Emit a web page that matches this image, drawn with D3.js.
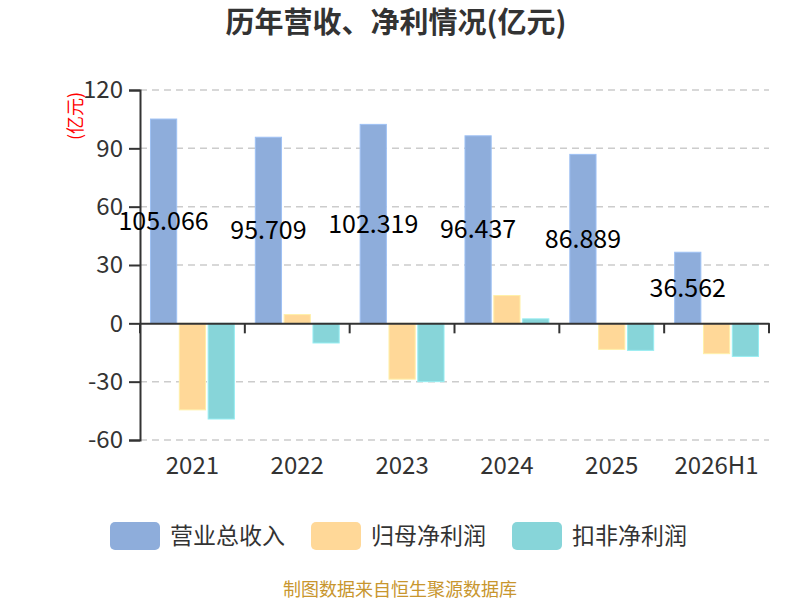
<!DOCTYPE html>
<html>
<head>
<meta charset="utf-8">
<script src="https://cdn.jsdelivr.net/npm/d3@7"></script>
<style>
  body { margin: 0; background: #fff; }
  text { font-family: "Noto Sans CJK SC", "Noto Sans", sans-serif; }
</style>
</head>
<body>
<svg id="chart" width="800" height="600"></svg>
<script>
const years = ["2021", "2022", "2023", "2024", "2025", "2026H1"];
const seriesNames = ["营业总收入", "归母净利润", "扣非净利润"];
const revenue = [105.066, 95.709, 102.319, 96.437, 86.889, 36.562];
const netProfit = [-44.5, 4.5, -28.7, 14.3, -13.4, -15.6];
const deductedProfit = [-49.2, -10.1, -30.0, 2.3, -13.9, -17.0];
const yTicks = [-60, -30, 0, 30, 60, 90, 120];
const colors = ["#8eaddb", "#ffd898", "#87d5d9"];

const series = [revenue, netProfit, deductedProfit];

let minx = 140;
let maxx = 769;
let miny = 90;
let maxy = 440;

let svg = d3.select("#chart");

let xScale = d3.scaleBand()
  .domain(years)
  .range([minx, maxx]);
let yScale = d3.scaleLinear()
  .domain([-60, 120])
  .range([maxy, miny]);

// bars take 80% of the band, 10% gap between bars
let groupW = xScale.bandwidth() * 0.8;
let barW = groupW / 3.2;
let gap = barW * 0.1;
let inner = d3.scaleBand()
  .domain([0, 1, 2])
  .range([0, groupW])
  .paddingInner(gap / (barW + gap));

// title
svg.append("text")
  .attr("x", 396)
  .attr("y", 33)
  .attr("text-anchor", "middle")
  .attr("font-size", 29)
  .attr("font-weight", "bold")
  .attr("fill", "#333")
  .text("历年营收、净利情况(亿元)");

// grid
svg.append("g")
  .selectAll("line")
  .data(yTicks.filter(d => d != 0))
  .join("line")
  .attr("x1", minx)
  .attr("x2", maxx)
  .attr("y1", d => yScale(d))
  .attr("y2", d => yScale(d))
  .attr("stroke", "#ccc")
  .attr("stroke-width", 1.5)
  .attr("stroke-dasharray", "7,5");

// y axis
let y_axis = d3.axisLeft(yScale)
  .tickValues(yTicks)
  .tickFormat(d => String(d))
  .tickSize(11)
  .tickPadding(6);
let gy = svg.append("g")
  .attr("transform", `translate(${minx}, 0)`)
  .call(y_axis);
gy.select(".domain").attr("stroke", "#333").attr("stroke-width", 2);
gy.selectAll(".tick line").attr("stroke", "#333").attr("stroke-width", 2);
gy.selectAll(".tick text")
  .attr("font-size", 24)
  .attr("fill", "#333")
  .attr("font-family", "\"Noto Sans\", sans-serif");

svg.append("text")
  .attr("transform", `translate(82, 116) rotate(-90)`)
  .attr("text-anchor", "middle")
  .attr("font-size", 18)
  .attr("fill", "#ff0000")
  .text("(亿元)");

// bars
series.forEach((vals, si) => {
  svg.append("g")
    .selectAll("rect")
    .data(vals)
    .join("rect")
    .attr("x", (d, i) => xScale(years[i]) + (xScale.bandwidth() - groupW) / 2 + inner(si))
    .attr("width", inner.bandwidth())
    .attr("y", d => yScale(Math.max(0, d)))
    .attr("height", d => Math.abs(yScale(d) - yScale(0)))
    .attr("fill", colors[si])
    .attr("stroke", d3.color(colors[si]).brighter(0.3))
    .attr("stroke-width", 1);
});

// x axis on zero line
let x_axis = d3.axisBottom(xScale).tickSize(0).tickPadding(0).tickFormat("");
let gx = svg.append("g")
  .attr("transform", `translate(0, ${yScale(0)})`)
  .call(x_axis);
gx.select(".domain").attr("stroke", "#333").attr("stroke-width", 2);
gx.selectAll(".tick").remove();

svg.append("g")
  .selectAll("line")
  .data(years.map(y => xScale(y)).concat([maxx]))
  .join("line")
  .attr("x1", d => d)
  .attr("x2", d => d)
  .attr("y1", yScale(0))
  .attr("y2", yScale(0) + 10)
  .attr("stroke", "#333")
  .attr("stroke-width", 2);

svg.append("g")
  .selectAll("text")
  .data(years)
  .join("text")
  .attr("x", d => xScale(d) + xScale.bandwidth() / 2)
  .attr("y", 474)
  .attr("text-anchor", "middle")
  .attr("font-size", 24)
  .attr("fill", "#333")
  .attr("font-family", "\"Noto Sans\", sans-serif")
  .text(d => d);

// revenue value labels
svg.append("g")
  .selectAll("text")
  .data(revenue)
  .join("text")
  .attr("x", (d, i) => xScale(years[i]) + (xScale.bandwidth() - groupW) / 2 + inner(0) + inner.bandwidth() / 2)
  .attr("y", d => (yScale(d) + yScale(0)) / 2)
  .attr("dy", "0.35em")
  .attr("text-anchor", "middle")
  .attr("font-size", 25)
  .attr("fill", "#000")
  .attr("font-family", "\"Noto Sans\", sans-serif")
  .text(d => d3.format(".3f")(d));

// legend
let legend = svg.append("g")
  .selectAll("g")
  .data(seriesNames)
  .join("g")
  .attr("transform", (d, i) => `translate(${110 + i * 201}, 522)`);
legend.append("rect")
  .attr("width", 50)
  .attr("height", 28)
  .attr("rx", 5)
  .attr("fill", (d, i) => colors[i]);
legend.append("text")
  .attr("x", 60)
  .attr("y", 14)
  .attr("dy", "0.36em")
  .attr("font-size", 23)
  .attr("fill", "#333")
  .text(d => d);

// footer
svg.append("text")
  .attr("x", 400)
  .attr("y", 596)
  .attr("text-anchor", "middle")
  .attr("font-size", 18)
  .attr("fill", "#c8962e")
  .text("制图数据来自恒生聚源数据库");
</script>
</body>
</html>
